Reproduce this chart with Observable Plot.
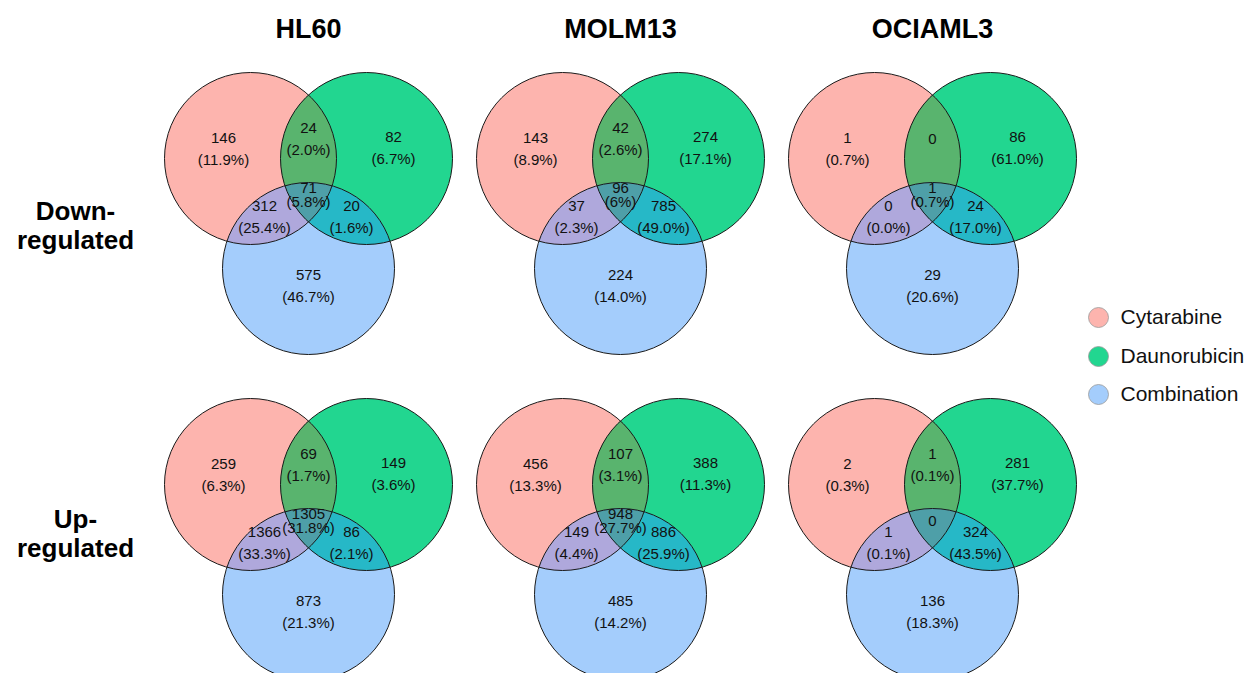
<!DOCTYPE html>
<html><head><meta charset="utf-8">
<script src="https://cdn.jsdelivr.net/npm/d3@7"></script>
<script src="https://cdn.jsdelivr.net/npm/@observablehq/plot@0.6"></script>
<style>html,body{margin:0;padding:0;overflow:hidden;background:#fff}</style>
</head><body><div id="chart"></div>
<script>
// ---- data ----
const cellLines = ["HL60", "MOLM13", "OCIAML3"];
const directions = ["Down-\nregulated", "Up-\nregulated"];
const sets = ["Cytarabine", "Daunorubicin", "Combination"];
// region order: Cyt only, Dau only, Comb only, Cyt∩Dau, Cyt∩Comb, Dau∩Comb, all three
const countsDown = [
  [146, 82, 575, 24, 312, 20, 71],
  [143, 274, 224, 42, 37, 785, 96],
  [1, 86, 29, 0, 0, 24, 1]
];
const pctDown = [
  ["11.9%", "6.7%", "46.7%", "2.0%", "25.4%", "1.6%", "5.8%"],
  ["8.9%", "17.1%", "14.0%", "2.6%", "2.3%", "49.0%", "6%"],
  ["0.7%", "61.0%", "20.6%", null, "0.0%", "17.0%", "0.7%"]
];
const countsUp = [
  [259, 149, 873, 69, 1366, 86, 1305],
  [456, 388, 485, 107, 149, 886, 948],
  [2, 281, 136, 1, 1, 324, 0]
];
const pctUp = [
  ["6.3%", "3.6%", "21.3%", "1.7%", "33.3%", "2.1%", "31.8%"],
  ["13.3%", "11.3%", "14.2%", "3.1%", "4.4%", "25.9%", "27.7%"],
  ["0.3%", "37.7%", "18.3%", "0.1%", "0.1%", "43.5%", null]
];

// ---- styles / layout ----
const setColors = ["#FDB4AE", "#22D690", "#A4CDFC"];
const overlapColors = {"0,1": "#59B46E", "0,2": "#AFA8DC", "1,2": "#26B8C7", "0,1,2": "#4E9FA8"};
const W = 1255, H = 673;
const FONT = "'Liberation Sans', Arial, Helvetica, sans-serif";
const colX = cellLines.map((_, i) => 308 + 312 * i);
const rowY = directions.map((_, j) => 158 + 326 * j);
const R = 86;
const setOffsets = [[-58, 0], [58, 0], [0, 110]];
const regionSets = [[0], [1], [2], [0, 1], [0, 2], [1, 2], [0, 1, 2]];
const labelOffsets = [[-85, -9], [85, -10], [0, 128], [0, -19], [-44, 59], [43, 59], [0, 37]];
const lineGap = [22, 22, 22, 22, 22, 22, 14];

const counts = [countsDown, countsUp];
const pcts = [pctDown, pctUp];

// circles
const circles = [];
directions.forEach((dir, j) => cellLines.forEach((cl, i) => sets.forEach((s, k) => {
  circles.push({key: `${j}-${i}`, set: s, k, x: colX[i] + setOffsets[k][0], y: rowY[j] + setOffsets[k][1]});
})));

// overlap polygons (intersection of circles, convex)
function intersectionPolygon(cs) {
  const pts = [];
  const N = 720;
  for (const c of cs) {
    for (let n = 0; n < N; n++) {
      const t = 2 * Math.PI * n / N;
      const p = [c.x + R * Math.cos(t), c.y + R * Math.sin(t)];
      if (cs.every(o => o === c || Math.hypot(p[0] - o.x, p[1] - o.y) <= R + 1e-6)) pts.push(p);
    }
  }
  const mx = d3.mean(pts, p => p[0]), my = d3.mean(pts, p => p[1]);
  pts.sort((a, b) => Math.atan2(a[1] - my, a[0] - mx) - Math.atan2(b[1] - my, b[0] - mx));
  return pts;
}
const overlapMarks = [];
for (const combo of [[0, 1], [0, 2], [1, 2], [0, 1, 2]]) {
  const rows = [];
  directions.forEach((dir, j) => cellLines.forEach((cl, i) => {
    const key = `${j}-${i}`;
    const cs = circles.filter(c => c.key === key && combo.includes(c.k));
    intersectionPolygon(cs).forEach(p => rows.push({key, x: p[0], y: p[1]}));
  }));
  overlapMarks.push(Plot.line(rows, {x: "x", y: "y", z: "key", fill: overlapColors[combo.join(",")], stroke: "none", curve: "linear-closed"}));
}

// labels
const labels = [];
directions.forEach((dir, j) => cellLines.forEach((cl, i) => regionSets.forEach((rs, r) => {
  const cx = colX[i] + labelOffsets[r][0], cy = rowY[j] + labelOffsets[r][1];
  const n = counts[j][i][r], p = pcts[j][i][r];
  if (p == null) labels.push({x: cx, y: cy, text: String(n)});
  else {
    labels.push({x: cx, y: cy - lineGap[r] / 2, text: String(n)});
    labels.push({x: cx, y: cy + lineGap[r] / 2, text: `(${p})`});
  }
})));

// row labels
const rowLabels = [];
directions.forEach((dir, j) => dir.split("\n").forEach((line, m) => {
  rowLabels.push({x: 75, y: (j === 0 ? 211 : 519) + m * 29, text: line});
}));

const legendY = [317, 356, 394];

const plot = Plot.plot({
  width: W, height: H, margin: 0,
  x: {domain: [0, W], range: [0, W], axis: null},
  y: {domain: [0, H], range: [0, H], axis: null},
  style: {fontFamily: FONT, background: "white", overflow: "hidden"},
  marks: [
    Plot.dot(circles, {x: "x", y: "y", r: R, fill: d => setColors[d.k], stroke: "none"}),
    ...overlapMarks,
    Plot.dot(circles, {x: "x", y: "y", r: R, fill: "none", stroke: "#1a1a1a", strokeWidth: 1}),
    Plot.text(labels, {x: "x", y: "y", text: "text", fontSize: 15, fill: "#111"}),
    Plot.text(cellLines, {x: (d, i) => colX[i], y: 29, text: d => d, fontSize: 27, fontWeight: "bold", fill: "#000"}),
    Plot.text(rowLabels, {x: "x", y: "y", text: "text", fontSize: 26, fontWeight: "bold", fill: "#000"}),
    Plot.dot(sets, {x: 1098, y: (d, i) => legendY[i], r: 10, fill: (d, i) => setColors[i], stroke: "#999", strokeWidth: 0.8}),
    Plot.text(sets, {x: 1120, y: (d, i) => legendY[i], text: d => d, textAnchor: "start", fontSize: 21, fill: "#111"})
  ]
});
document.getElementById("chart").appendChild(plot);
</script>
</body></html>
